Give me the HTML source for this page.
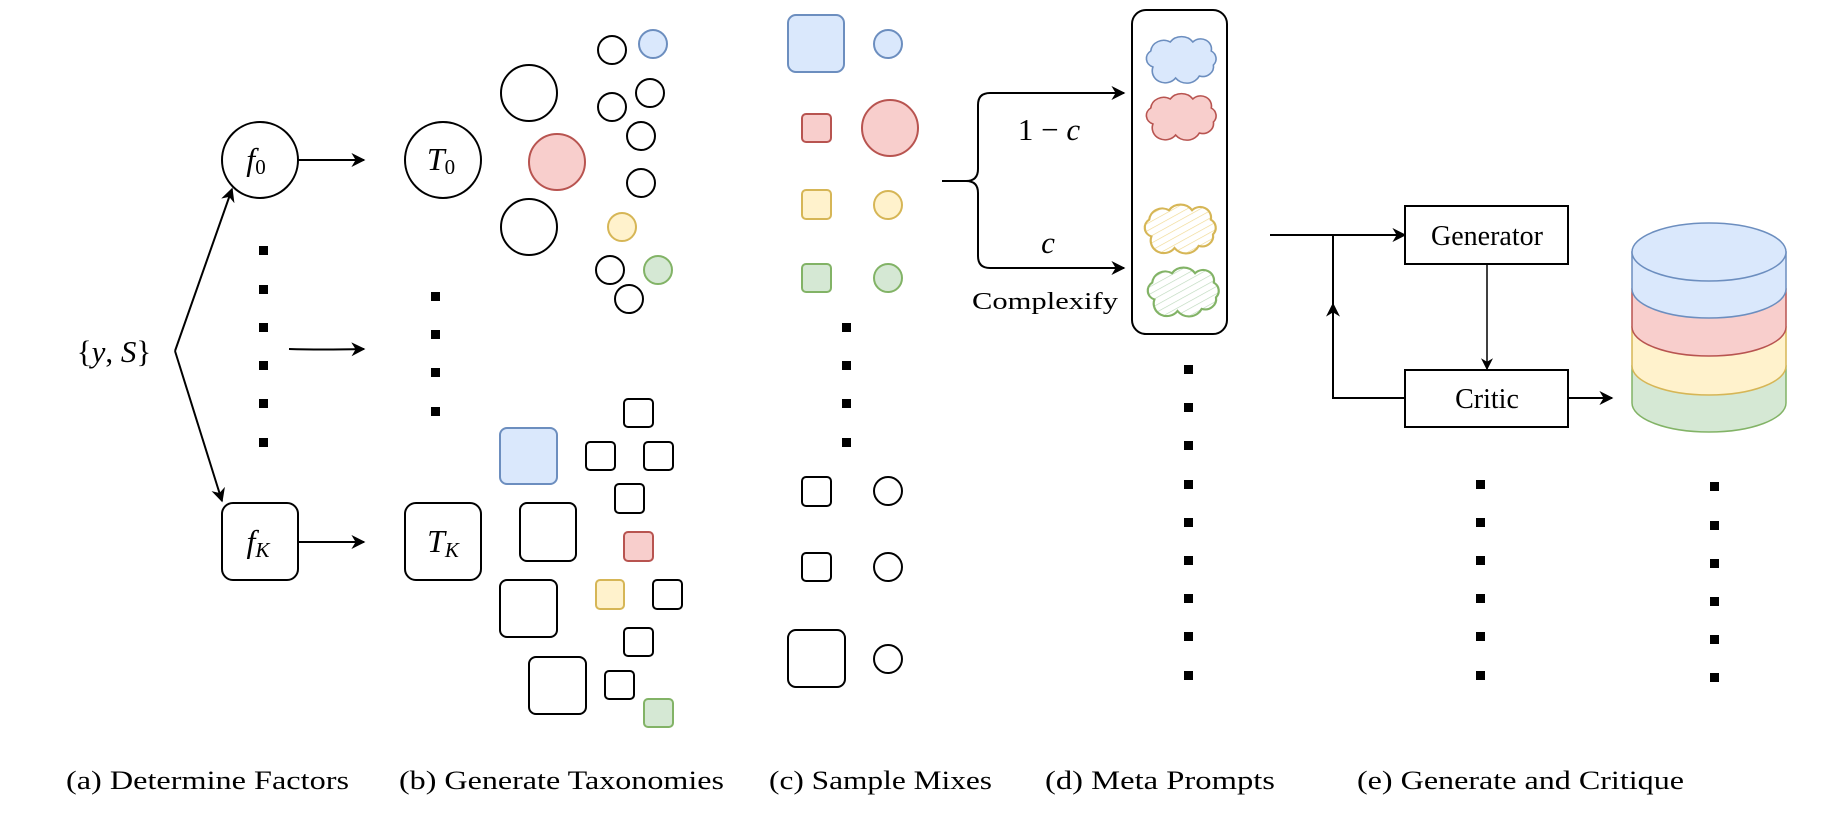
<!DOCTYPE html>
<html><head><meta charset="utf-8"><style>
html,body{margin:0;padding:0;background:#fff;width:1840px;height:836px;overflow:hidden}
svg text{font-family:"Liberation Serif",serif;fill:#000}
</style></head><body>
<svg width="1840" height="836" viewBox="0 0 1840 836" xmlns="http://www.w3.org/2000/svg">
<defs>
<marker id="ar" viewBox="0 0 10 10" refX="9" refY="5" markerWidth="12" markerHeight="12" markerUnits="userSpaceOnUse" orient="auto"><path d="M0,0 L10,5 L0,10 L3,5 z" fill="#000"/></marker>
<marker id="ar2" viewBox="0 0 10 10" refX="9" refY="5" markerWidth="14" markerHeight="14" markerUnits="userSpaceOnUse" orient="auto"><path d="M0,0 L10,5 L0,10 L3,5 z" fill="#000"/></marker>
<pattern id="hy" width="6" height="6" patternUnits="userSpaceOnUse" patternTransform="rotate(60)"><line x1="0" y1="0" x2="0" y2="6" stroke="#f0d890" stroke-width="1.2"/></pattern>
<pattern id="hg" width="6" height="6" patternUnits="userSpaceOnUse" patternTransform="rotate(60)"><line x1="0" y1="0" x2="0" y2="6" stroke="#bcd8bb" stroke-width="1.2"/></pattern>
<path id="cloud" d="M-26,9 a9,9 0 0 1 -2,-16 a12,12 0 0 1 18,-9 a13,13 0 0 1 21,0 a10,10 0 0 1 17,9 a9,9 0 0 1 2,14 a10,10 0 0 1 -13,11 a13,13 0 0 1 -22,2 a12,12 0 0 1 -21,-11 z"/>
</defs>
<g fill="none" stroke="#000" stroke-width="2">
<circle cx="260" cy="160" r="38" fill="#fff"/>
<rect x="222" y="503" width="76" height="77" rx="11" fill="#fff"/>
<line x1="298" y1="160" x2="364" y2="160" marker-end="url(#ar2)"/>
<line x1="298" y1="542" x2="364" y2="542" marker-end="url(#ar2)"/>
<path d="M289,349 Q320,350 364,349" marker-end="url(#ar2)"/>
<line x1="175" y1="351" x2="232" y2="189" marker-end="url(#ar2)"/>
<line x1="175" y1="351" x2="222" y2="501" marker-end="url(#ar2)"/>
<circle cx="443" cy="160" r="38" fill="#fff"/>
<rect x="405" y="503" width="76" height="77" rx="11" fill="#fff"/>
<circle cx="529" cy="93" r="28"/>
<circle cx="557" cy="162" r="28" fill="#f8cecc" stroke="#b85450"/>
<circle cx="529" cy="227" r="28"/>
<circle cx="612" cy="50" r="14"/>
<circle cx="653" cy="44" r="14" fill="#dae8fc" stroke="#6c8ebf"/>
<circle cx="650" cy="93" r="14"/>
<circle cx="612" cy="107" r="14"/>
<circle cx="641" cy="136" r="14"/>
<circle cx="641" cy="183" r="14"/>
<circle cx="622" cy="227" r="14" fill="#fff2cc" stroke="#d6b656"/>
<circle cx="610" cy="270" r="14"/>
<circle cx="658" cy="270" r="14" fill="#d5e8d4" stroke="#82b366"/>
<circle cx="629" cy="299" r="14"/>
<rect x="500" y="428" width="57" height="56" rx="7" fill="#dae8fc" stroke="#6c8ebf"/>
<rect x="520" y="503" width="56" height="58" rx="7"/>
<rect x="500" y="580" width="57" height="57" rx="7"/>
<rect x="529" y="657" width="57" height="57" rx="7"/>
<rect x="624" y="399" width="29" height="28" rx="4"/>
<rect x="586" y="442" width="29" height="28" rx="4"/>
<rect x="644" y="442" width="29" height="28" rx="4"/>
<rect x="615" y="484" width="29" height="29" rx="4"/>
<rect x="624" y="532" width="29" height="29" rx="4" fill="#f8cecc" stroke="#b85450"/>
<rect x="596" y="580" width="28" height="29" rx="4" fill="#fff2cc" stroke="#d6b656"/>
<rect x="653" y="580" width="29" height="29" rx="4"/>
<rect x="624" y="628" width="29" height="28" rx="4"/>
<rect x="605" y="671" width="29" height="28" rx="4"/>
<rect x="644" y="699" width="29" height="28" rx="4" fill="#d5e8d4" stroke="#82b366"/>
<rect x="788" y="15" width="56" height="57" rx="8" fill="#dae8fc" stroke="#6c8ebf"/>
<circle cx="888" cy="44" r="14" fill="#dae8fc" stroke="#6c8ebf"/>
<rect x="802" y="114" width="29" height="28" rx="4" fill="#f8cecc" stroke="#b85450"/>
<circle cx="890" cy="128" r="28" fill="#f8cecc" stroke="#b85450"/>
<rect x="802" y="190" width="29" height="29" rx="4" fill="#fff2cc" stroke="#d6b656"/>
<circle cx="888" cy="205" r="14" fill="#fff2cc" stroke="#d6b656"/>
<rect x="802" y="264" width="29" height="28" rx="4" fill="#d5e8d4" stroke="#82b366"/>
<circle cx="888" cy="278" r="14" fill="#d5e8d4" stroke="#82b366"/>
<rect x="802" y="477" width="29" height="29" rx="4"/>
<circle cx="888" cy="491" r="14"/>
<rect x="802" y="553" width="29" height="28" rx="4"/>
<circle cx="888" cy="567" r="14"/>
<rect x="788" y="630" width="57" height="57" rx="8"/>
<circle cx="888" cy="659" r="14"/>
<path d="M942,181 L966,181 Q978,181 978,169 L978,105 Q978,93 990,93 L1124,93" marker-end="url(#ar2)"/>
<path d="M966,181 Q978,181 978,193 L978,256 Q978,268 990,268 L1124,268" marker-end="url(#ar2)"/>
<rect x="1132" y="10" width="95" height="324" rx="14"/>
<use href="#cloud" transform="translate(1181,58) scale(1.08,1.0)" fill="#dae8fc" stroke="#6c8ebf" stroke-width="1.5"/>
<use href="#cloud" transform="translate(1181,115) scale(1.08,1.0)" fill="#f8cecc" stroke="#b85450" stroke-width="1.5"/>
<use href="#cloud" transform="translate(1180,227) scale(1.1,1.05)" fill="url(#hy)" stroke="#d6b656" stroke-width="2"/>
<use href="#cloud" transform="translate(1183,290) scale(1.1,1.05)" fill="url(#hg)" stroke="#82b366" stroke-width="2"/>
<line x1="1270" y1="235" x2="1405" y2="235" marker-end="url(#ar2)"/>
<rect x="1405" y="206" width="163" height="58" fill="#fff"/>
<rect x="1405" y="370" width="163" height="57" fill="#fff"/>
<line x1="1487" y1="264" x2="1487" y2="369" stroke-width="1.5" marker-end="url(#ar)"/>
<path d="M1405,398 L1333,398 L1333,235"/>
<line x1="1333" y1="330" x2="1333" y2="304" marker-end="url(#ar2)"/>
<line x1="1568" y1="398" x2="1612" y2="398" marker-end="url(#ar2)"/>
<g stroke-width="1.5">
<path d="M1632,366 L1632,403 A77,29 0 0 0 1786,403 L1786,366 Z" fill="#d5e8d4" stroke="#82b366"/>
<path d="M1632,327 L1632,366 A77,29 0 0 0 1786,366 L1786,327 Z" fill="#fff2cc" stroke="#d6b656"/>
<path d="M1632,289 L1632,327 A77,29 0 0 0 1786,327 L1786,289 Z" fill="#f8cecc" stroke="#b85450"/>
<path d="M1632,252 L1632,289 A77,29 0 0 0 1786,289 L1786,252 Z" fill="#dae8fc" stroke="#6c8ebf"/>
<ellipse cx="1709" cy="252" rx="77" ry="29" fill="#dae8fc" stroke="#6c8ebf"/>
</g>
</g>
<g fill="#000">
<rect x="259" y="246" width="9" height="9"/><rect x="259" y="285" width="9" height="9"/><rect x="259" y="323" width="9" height="9"/><rect x="259" y="361" width="9" height="9"/><rect x="259" y="399" width="9" height="9"/><rect x="259" y="438" width="9" height="9"/>
<rect x="431" y="292" width="9" height="9"/><rect x="431" y="330" width="9" height="9"/><rect x="431" y="368" width="9" height="9"/><rect x="431" y="407" width="9" height="9"/>
<rect x="842" y="323" width="9" height="9"/><rect x="842" y="361" width="9" height="9"/><rect x="842" y="399" width="9" height="9"/><rect x="842" y="438" width="9" height="9"/>
<rect x="1184" y="365" width="9" height="9"/><rect x="1184" y="403" width="9" height="9"/><rect x="1184" y="441" width="9" height="9"/><rect x="1184" y="480" width="9" height="9"/><rect x="1184" y="518" width="9" height="9"/><rect x="1184" y="556" width="9" height="9"/><rect x="1184" y="594" width="9" height="9"/><rect x="1184" y="632" width="9" height="9"/><rect x="1184" y="671" width="9" height="9"/>
<rect x="1476" y="480" width="9" height="9"/><rect x="1476" y="518" width="9" height="9"/><rect x="1476" y="556" width="9" height="9"/><rect x="1476" y="594" width="9" height="9"/><rect x="1476" y="632" width="9" height="9"/><rect x="1476" y="671" width="9" height="9"/>
<rect x="1710" y="482" width="9" height="9"/><rect x="1710" y="521" width="9" height="9"/><rect x="1710" y="559" width="9" height="9"/><rect x="1710" y="597" width="9" height="9"/><rect x="1710" y="635" width="9" height="9"/><rect x="1710" y="673" width="9" height="9"/>
</g>
<text x="114" y="362" font-size="31" text-anchor="middle">{<tspan font-style="italic">y</tspan>, <tspan font-style="italic">S</tspan>}</text>
<text x="256" y="170" font-size="32" text-anchor="middle"><tspan font-style="italic">f</tspan><tspan font-size="21" dy="4">0</tspan></text>
<text x="258" y="552" font-size="32" text-anchor="middle"><tspan font-style="italic">f</tspan><tspan font-size="21" dy="5" font-style="italic">K</tspan></text>
<text x="441" y="170" font-size="32" text-anchor="middle"><tspan font-style="italic">T</tspan><tspan font-size="21" dy="4">0</tspan></text>
<text x="443" y="552" font-size="32" text-anchor="middle"><tspan font-style="italic">T</tspan><tspan font-size="21" dy="5" font-style="italic">K</tspan></text>
<text x="1049" y="140" font-size="31" text-anchor="middle">1 − <tspan font-style="italic">c</tspan></text>
<text x="1048" y="253" font-size="31" text-anchor="middle" font-style="italic">c</text>
<text x="1045" y="309" font-size="24" text-anchor="middle" textLength="146" lengthAdjust="spacingAndGlyphs">Complexify</text>
<text x="1487" y="245" font-size="28" text-anchor="middle">Generator</text>
<text x="1487" y="408" font-size="28" text-anchor="middle">Critic</text>
<g font-size="26">
<text x="66" y="789" textLength="283" lengthAdjust="spacingAndGlyphs">(a) Determine Factors</text>
<text x="399" y="789" textLength="325" lengthAdjust="spacingAndGlyphs">(b) Generate Taxonomies</text>
<text x="769" y="789" textLength="223" lengthAdjust="spacingAndGlyphs">(c) Sample Mixes</text>
<text x="1045" y="789" textLength="230" lengthAdjust="spacingAndGlyphs">(d) Meta Prompts</text>
<text x="1357" y="789" textLength="327" lengthAdjust="spacingAndGlyphs">(e) Generate and Critique</text>
</g>
</svg>
</body></html>
